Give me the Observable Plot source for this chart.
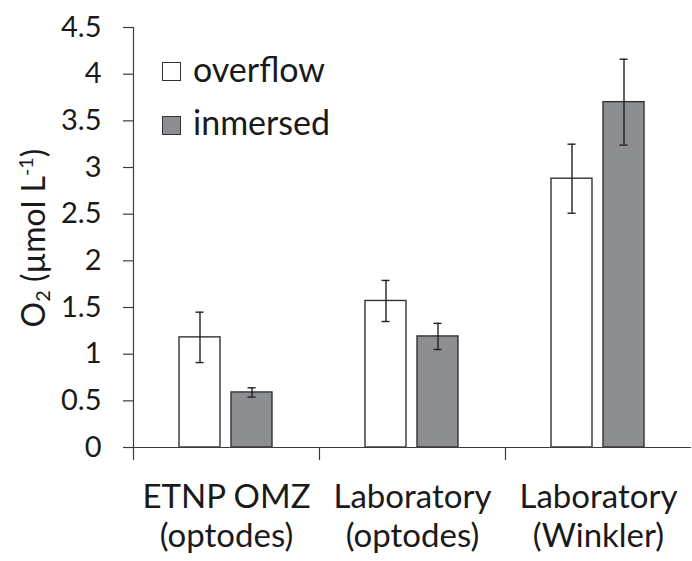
<!DOCTYPE html>
<html>
<head>
<meta charset="utf-8">
<script src="https://cdn.jsdelivr.net/npm/d3@7"></script>
<script src="https://cdn.jsdelivr.net/npm/@observablehq/plot@0.6"></script>
<style>
  html, body { margin: 0; padding: 0; background: #fff; }
  #wrap { position: relative; width: 692px; height: 561px; font-family: Lato, "Noto Sans", sans-serif; color: #1a1a1a; }
  #wrap svg { position: absolute; left: 0; top: 0; }
  .ylab { position: absolute; width: 400px; text-align: center; font-size: 32px; line-height: 36px;
          transform: rotate(-90deg); transform-origin: 50% 50%; white-space: nowrap; }
  .ylab sub { font-size: 0.62em; vertical-align: -0.25em; line-height: 0; }
  .ylab sup { font-size: 0.62em; vertical-align: 0.62em; line-height: 0; }
  .sw { position: absolute; width: 17px; height: 17px; border: 1.5px solid #333; }
  .lt { position: absolute; font-size: 34px; line-height: 34px; white-space: nowrap; }
</style>
</head>
<body>
<div id="wrap"></div>
<script>
// ---- data ----
const categories = ["ETNP OMZ\n(optodes)", "Laboratory\n(optodes)", "Laboratory\n(Winkler)"];
const series = ["overflow", "inmersed"];
const seriesColors = ["#ffffff", "#8d8e91"];
const overflowMean = [1.18, 1.57, 2.88];
const overflowErr  = [0.27, 0.22, 0.37];
const inmersedMean = [0.59, 1.19, 3.70];
const inmersedErr  = [0.05, 0.14, 0.46];
const yTicks = [0, 0.5, 1, 1.5, 2, 2.5, 3, 3.5, 4, 4.5];

const rows = [];
categories.forEach((c, i) => {
  rows.push({cat: c, series: "overflow", mean: overflowMean[i], lo: overflowMean[i] - overflowErr[i], hi: overflowMean[i] + overflowErr[i]});
  rows.push({cat: c, series: "inmersed", mean: inmersedMean[i], lo: inmersedMean[i] - inmersedErr[i], hi: inmersedMean[i] + inmersedErr[i]});
});

const W = 692, H = 561, mT = 27, mB = 114, mL = 132;
const plotH = H - mT - mB;
const axisColor = "#3c3c3c";

const chart = Plot.plot({
  width: W, height: H,
  marginLeft: mL, marginRight: 0, marginTop: mT, marginBottom: mB,
  style: {fontFamily: "Lato, 'Noto Sans', sans-serif", fontSize: "28px", color: "#1a1a1a", background: "transparent", overflow: "visible"},
  fx: {domain: categories, padding: 0, axis: null, label: null},
  x: {domain: series, paddingInner: 0.2075, paddingOuter: 0.868, axis: null},
  y: {domain: [0, 4.5], axis: null},
  color: {domain: series, range: seriesColors},
  marks: [
    Plot.barY(rows, {fx: "cat", x: "series", y: "mean", fill: "series", stroke: "#333", strokeWidth: 1.4}),
    Plot.ruleX(rows, {fx: "cat", x: "series", y1: "lo", y2: "hi", stroke: "#222", strokeWidth: 1.4}),
    Plot.tickY(rows, {fx: "cat", x: "series", y: "hi", stroke: "#222", strokeWidth: 1.4, insetLeft: 16.5, insetRight: 16.5}),
    Plot.tickY(rows, {fx: "cat", x: "series", y: "lo", stroke: "#222", strokeWidth: 1.4, insetLeft: 16.5, insetRight: 16.5}),
    Plot.ruleY([0], {stroke: axisColor, strokeWidth: 1.2}),
    Plot.frame({anchor: "left", insetTop: plotH, insetBottom: -12, stroke: axisColor, strokeWidth: 1.2}),
    Plot.frame({anchor: "left", facet: "super", stroke: axisColor, strokeWidth: 1.2}),
    Plot.axisY({ticks: yTicks, tickSize: 10, tickPadding: 22, tickFormat: d => String(d), label: null,
                fontSize: 29, stroke: axisColor, strokeWidth: 1.2, fill: "#1a1a1a"}),
    Plot.axisFx({anchor: "bottom", tickSize: 0, tickPadding: 33, label: null, fontSize: 33, lineHeight: 1.18, fill: "#1a1a1a"})
  ]
});

const wrap = document.getElementById("wrap");
wrap.appendChild(chart);

// y-axis title
const yl = document.createElement("div");
yl.className = "ylab";
yl.innerHTML = "O<sub>2</sub> (µmol L<sup>-1</sup>)";
yl.style.left = (33 - 200) + "px";
yl.style.top = (238 - 18) + "px";
wrap.appendChild(yl);

// legend
const legendSwatchTop = [62, 116];
const legendTextTop = [52, 105];
series.forEach((s, i) => {
  const sw = document.createElement("div");
  sw.className = "sw";
  sw.style.left = "162px";
  sw.style.top = legendSwatchTop[i] + "px";
  sw.style.background = seriesColors[i];
  wrap.appendChild(sw);
  const t = document.createElement("div");
  t.className = "lt";
  t.style.left = "193px";
  t.style.top = legendTextTop[i] + "px";
  t.textContent = s;
  wrap.appendChild(t);
});
</script>
</body>
</html>
